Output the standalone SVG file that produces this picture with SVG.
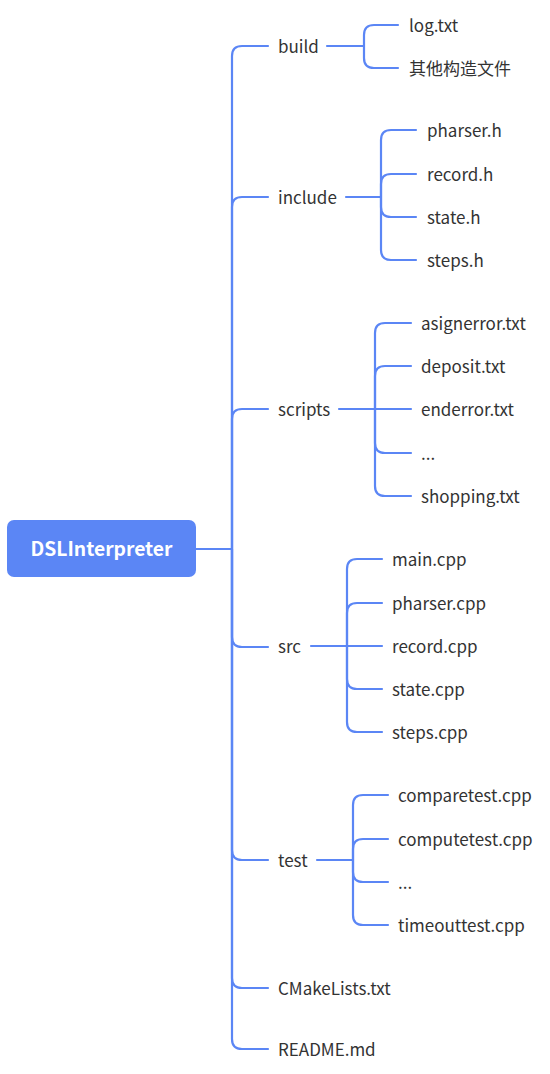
<svg xmlns="http://www.w3.org/2000/svg" width="550" height="1074" viewBox="0 0 550 1074">
<style>
.c{fill:none;stroke:#5b86f5;stroke-width:2.2;stroke-linecap:round}
.t{font-family:"Noto Sans CJK SC","Noto Sans",sans-serif;font-size:17px;fill:#333}
.r{font-family:"Noto Sans CJK SC","Noto Sans",sans-serif;font-size:19.3px;font-weight:bold;fill:#fff}
</style>
<rect width="550" height="1074" fill="#fff"/>
<g id="connectors">
<path class="c" d="M196,549 H232"/>
<path class="c" d="M232,549 V56 Q232,46 242,46 H268"/>
<path class="c" d="M232,549 V207 Q232,197 242,197 H268"/>
<path class="c" d="M232,549 V419 Q232,409 242,409 H268"/>
<path class="c" d="M232,549 V637 Q232,647 242,647 H268"/>
<path class="c" d="M232,549 V850 Q232,860 242,860 H268"/>
<path class="c" d="M232,549 V978 Q232,988 242,988 H268"/>
<path class="c" d="M232,549 V1039 Q232,1049 242,1049 H268"/>
<!-- build -->
<path class="c" d="M327,46 H364"/>
<path class="c" d="M364,46 V35 Q364,25 374,25 H398"/>
<path class="c" d="M364,46 V58 Q364,68 374,68 H398"/>
<!-- include -->
<path class="c" d="M346,197 H381"/>
<path class="c" d="M381,197 V140 Q381,130 391,130 H416"/>
<path class="c" d="M381,197 V184 Q381,174 391,174 H416"/>
<path class="c" d="M381,197 V207 Q381,217 391,217 H416"/>
<path class="c" d="M381,197 V250 Q381,260 391,260 H416"/>
<!-- scripts -->
<path class="c" d="M339,409 H411"/>
<path class="c" d="M375,409 V333 Q375,323 385,323 H411"/>
<path class="c" d="M375,409 V376 Q375,366 385,366 H411"/>
<path class="c" d="M375,409 V443 Q375,453 385,453 H411"/>
<path class="c" d="M375,409 V486 Q375,496 385,496 H411"/>
<!-- src -->
<path class="c" d="M311,646 H382"/>
<path class="c" d="M347,646 V569 Q347,559 357,559 H382"/>
<path class="c" d="M347,646 V613 Q347,603 357,603 H382"/>
<path class="c" d="M347,646 V679 Q347,689 357,689 H382"/>
<path class="c" d="M347,646 V722 Q347,732 357,732 H382"/>
<!-- test -->
<path class="c" d="M317,860 H353"/>
<path class="c" d="M353,860 V805 Q353,795 363,795 H388"/>
<path class="c" d="M353,860 V849 Q353,839 363,839 H388"/>
<path class="c" d="M353,860 V872 Q353,882 363,882 H388"/>
<path class="c" d="M353,860 V915 Q353,925 363,925 H388"/>
</g>
<g id="root"><rect x="7" y="520" width="189" height="57" rx="7" fill="#5b86f5"/><text class="r" x="101.5" y="556" text-anchor="middle">DSLInterpreter</text></g>
<g id="build"><text class="t" x="278" y="52.5">build</text></g>
<g id="build-log"><text class="t" x="409" y="31.5">log.txt</text></g>
<g id="build-other"><text class="t" x="409" y="74.5">其他构造文件</text></g>
<g id="include"><text class="t" x="278" y="203.5">include</text></g>
<g id="inc-pharser"><text class="t" x="427" y="136.5">pharser.h</text></g>
<g id="inc-record"><text class="t" x="427" y="180.5">record.h</text></g>
<g id="inc-state"><text class="t" x="427" y="223.5">state.h</text></g>
<g id="inc-steps"><text class="t" x="427" y="266.5">steps.h</text></g>
<g id="scripts"><text class="t" x="278" y="415.5">scripts</text></g>
<g id="sc-asign"><text class="t" x="421" y="329.5">asignerror.txt</text></g>
<g id="sc-deposit"><text class="t" x="421" y="372.5">deposit.txt</text></g>
<g id="sc-enderror"><text class="t" x="421" y="415.5">enderror.txt</text></g>
<g id="sc-dots"><text class="t" x="421" y="459.5">...</text></g>
<g id="sc-shopping"><text class="t" x="421" y="502.5">shopping.txt</text></g>
<g id="src"><text class="t" x="278" y="652.5">src</text></g>
<g id="src-main"><text class="t" x="392" y="565.5">main.cpp</text></g>
<g id="src-pharser"><text class="t" x="392" y="609.5">pharser.cpp</text></g>
<g id="src-record"><text class="t" x="392" y="652.5">record.cpp</text></g>
<g id="src-state"><text class="t" x="392" y="695.5">state.cpp</text></g>
<g id="src-steps"><text class="t" x="392" y="738.5">steps.cpp</text></g>
<g id="test"><text class="t" x="278" y="866.5">test</text></g>
<g id="t-compare"><text class="t" x="398" y="801.5">comparetest.cpp</text></g>
<g id="t-compute"><text class="t" x="398" y="845.5">computetest.cpp</text></g>
<g id="t-dots"><text class="t" x="398" y="888.5">...</text></g>
<g id="t-timeout"><text class="t" x="398" y="931.5">timeouttest.cpp</text></g>
<g id="cmake"><text class="t" x="278" y="994.5">CMakeLists.txt</text></g>
<g id="readme"><text class="t" x="278" y="1055.5">README.md</text></g>
</svg>
